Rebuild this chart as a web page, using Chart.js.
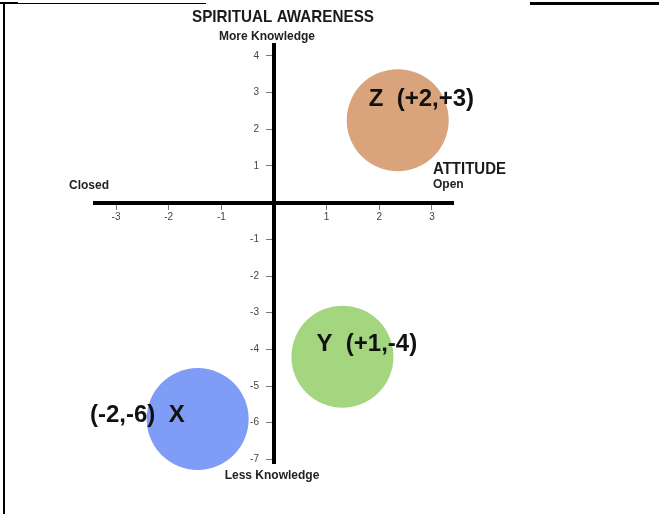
<!DOCTYPE html>
<html><head><meta charset="utf-8">
<script src="https://cdn.jsdelivr.net/npm/chart.js@4/dist/chart.umd.min.js"></script>
<style>
html,body{margin:0;padding:0;background:#fff;}
#wrap{position:relative;width:659px;height:514px;overflow:hidden;}
#c{position:absolute;left:0;top:0;}
.ln{position:absolute;background:#000;}
</style></head><body>
<div id="wrap"><canvas id="c" width="659" height="514"></canvas>
<div class="ln" style="left:0;top:3px;width:206px;height:1px"></div>
<div class="ln" style="left:0;top:2px;width:18px;height:2px"></div>
<div class="ln" style="left:530px;top:2px;width:129px;height:3px"></div>
<div class="ln" style="left:3px;top:3px;width:2px;height:511px"></div>
</div>
<script>
// ---- data ----
const names = ['Z', 'Y', 'X'];
const pointLabels = ['Z  (+2,+3)', 'Y  (+1,-4)', '(-2,-6)  X'];
const attitude = [2.35, 1.3, -1.45];    // horizontal (Closed .. Open)
const awareness = [2.25, -4.2, -5.9];   // vertical (Less .. More Knowledge)
const xTicks = [-3, -2, -1, 1, 2, 3];
const yTicks = [4, 3, 2, 1, -1, -2, -3, -4, -5, -6, -7];
const xRange = [-3.4, 3.4];
const yRange = [-7.1, 4.3];

// ---- styles / layout ----
const palette = ['#D9A37B', '#A3D67E', '#7F9CF6'];
const labelPlacement = [
  {dx: -29, dy: -14, align: 'left'},
  {dx: -26, dy: -6, align: 'left'},
  {dx: -13, dy: 3, align: 'right'}
];
const FONT = "'Liberation Sans', Arial, sans-serif";

const textPlugin = {
  id: 'texts',
  afterDatasetsDraw(chart) {
    const ctx = chart.ctx;
    const ca = chart.chartArea;
    const xs = chart.scales.x, ys = chart.scales.y;
    const x0 = xs.getPixelForValue(0);
    const y0 = ys.getPixelForValue(0);
    ctx.save();
    // y tick labels, left of the centred vertical axis
    ctx.font = '10px ' + FONT;
    ctx.fillStyle = '#444';
    ctx.textAlign = 'right';
    ctx.textBaseline = 'middle';
    yTicks.forEach(v => ctx.fillText(String(v), x0 - 15, ys.getPixelForValue(v)));
    ctx.textBaseline = 'alphabetic';
    // point labels
    chart.data.datasets.forEach((ds, i) => {
      const el = chart.getDatasetMeta(i).data[0];
      const p = labelPlacement[i];
      ctx.font = 'bold 24px ' + FONT;
      ctx.fillStyle = '#111';
      ctx.textAlign = p.align;
      ctx.fillText(pointLabels[i], el.x + p.dx, el.y + p.dy);
    });
    // axis titles
    ctx.fillStyle = '#1a1a1a';
    ctx.textAlign = 'center';
    ctx.font = 'bold 17px ' + FONT;
    ctx.fillText('SPIRITUAL AWARENESS', x0 + 9, ca.top - 23, 182);
    ctx.font = 'bold 12px ' + FONT;
    ctx.fillStyle = '#222';
    ctx.fillText('More Knowledge', x0 - 7, ca.top - 5);
    ctx.fillText('Less Knowledge', x0 - 2, ca.bottom + 16);
    ctx.textAlign = 'left';
    ctx.fillText('Closed', ca.left - 26, y0 - 14);
    ctx.fillText('Open', ca.right - 20, y0 - 15);
    ctx.font = 'bold 16px ' + FONT;
    ctx.fillStyle = '#1a1a1a';
    ctx.fillText('ATTITUDE', ca.right - 20, y0 - 29, 73);
    ctx.restore();
  }
};

new Chart(document.getElementById('c'), {
  type: 'scatter',
  data: {
    datasets: names.map((n, i) => ({
      label: n,
      data: [{x: attitude[i], y: awareness[i]}],
      backgroundColor: palette[i],
      borderWidth: 0, pointRadius: 51, pointHoverRadius: 51, clip: false
    }))
  },
  options: {
    responsive: false, animation: false, events: [],
    layout: {autoPadding: false, padding: {left: 95, right: 206, top: 45, bottom: 51}},
    plugins: {legend: {display: false}, tooltip: {enabled: false}},
    scales: {
      x: {
        type: 'linear', min: xRange[0], max: xRange[1], position: {y: 0},
        afterBuildTicks: s => { s.ticks = xTicks.map(v => ({value: v})); },
        border: {display: true, color: '#000', width: 4},
        grid: {drawOnChartArea: false, drawTicks: true, tickLength: 5, color: '#777', lineWidth: 1},
        ticks: {font: {family: FONT, size: 10}, color: '#444', padding: 4, maxRotation: 0, autoSkip: false}
      },
      y: {
        type: 'linear', min: yRange[0], max: yRange[1], position: {x: 0},
        afterBuildTicks: s => { s.ticks = yTicks.map(v => ({value: v})); },
        border: {display: true, color: '#000', width: 4},
        grid: {drawOnChartArea: false, drawTicks: true, tickLength: 6, color: '#777', lineWidth: 1},
        ticks: {display: false}
      }
    }
  },
  plugins: [textPlugin]
});
</script>
</body></html>
